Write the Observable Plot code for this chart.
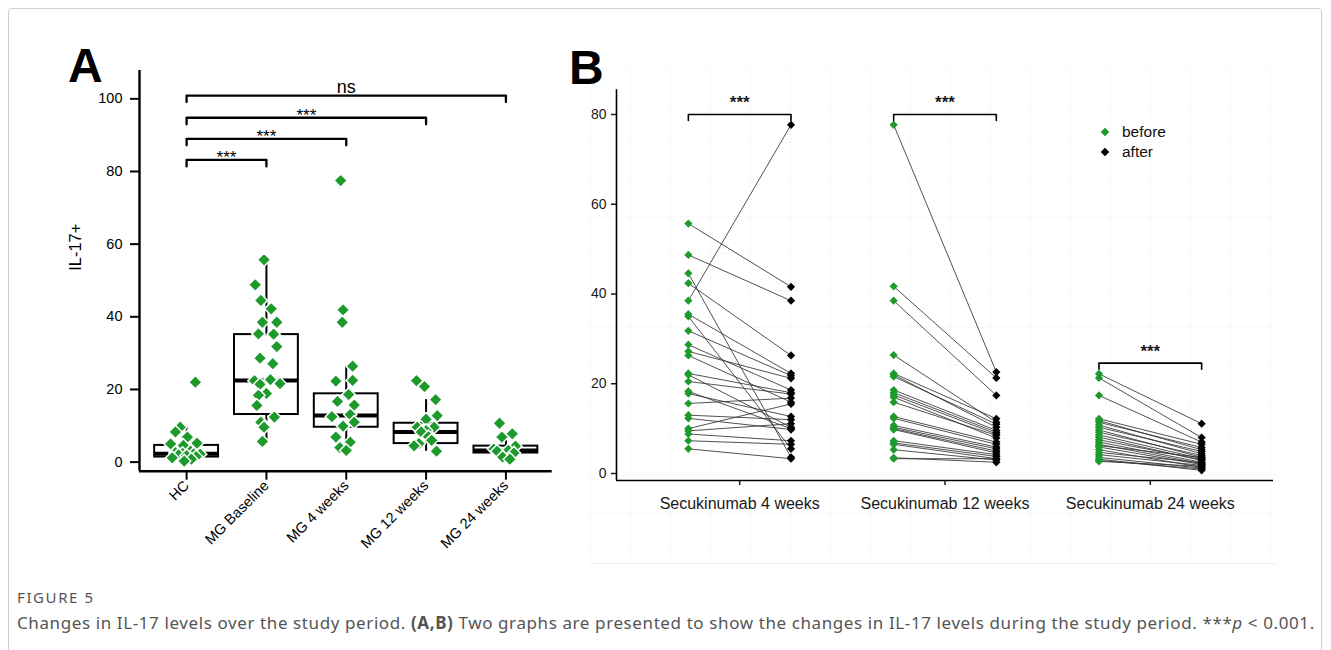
<!DOCTYPE html>
<html>
<head>
<meta charset="utf-8">
<script src="https://cdn.jsdelivr.net/npm/d3@7"></script>
<script src="https://cdn.jsdelivr.net/npm/@observablehq/plot@0.6"></script>
<style>
  html, body { margin: 0; padding: 0; background: #fff; }
  body { width: 1331px; height: 650px; overflow: hidden; position: relative; font-family: "Liberation Sans", Arial, sans-serif; }
  #frame { position: absolute; left: 8px; top: 8px; width: 1314px; height: 720px; border: 1px solid #cfcfcf; border-radius: 4px; box-sizing: border-box; }
  #gridB { position: absolute; left: 590px; top: 68px; width: 686px; height: 495px;
    background-image: linear-gradient(to right, rgba(0,0,0,0.022) 1px, transparent 1px),
                      linear-gradient(to bottom, rgba(0,0,0,0.022) 1px, transparent 1px);
    background-size: 40px 37px; border-bottom: 1px solid #f0f0f0; }
  #panelA { position: absolute; left: 0; top: 0; }
  #panelB { position: absolute; left: 560px; top: 0; }
  .tag { position: absolute; font-weight: bold; font-size: 48px; line-height: 48px; color: #000; }
  #legend { position: absolute; left: 1099px; top: 122px; font-size: 15.5px; color: #111; }
  #legend div { position: relative; height: 20px; line-height: 20px; padding-left: 23px; }
  #legend span.k { position: absolute; left: 3px; top: 7px; width: 6px; height: 6px; transform: rotate(45deg); }
  #fig { position: absolute; left: 17px; top: 587px; font-family: "Noto Sans", sans-serif; font-size: 15px; color: #555; letter-spacing: 1.6px; }
  #cap { position: absolute; left: 17px; top: 611px; font-family: "Noto Sans", sans-serif; font-size: 17px; color: #555; letter-spacing: 0.6px; white-space: nowrap; }
</style>
</head>
<body>
<div id="frame"></div>
<div id="gridB"></div>
<div id="panelA"></div>
<div id="panelB"></div>
<div class="tag" style="left:68px; top:42px;">A</div>
<div class="tag" style="left:569px; top:44px;">B</div>
<div id="legend">
  <div><span class="k" style="background:#1e9a2d"></span>before</div>
  <div><span class="k" style="background:#000"></span>after</div>
</div>
<div id="fig">FIGURE 5</div>
<div id="cap">Changes in IL-17 levels over the study period. <b>(A,B)</b> Two graphs are presented to show the changes in IL-17 levels during the study period. ***<i>p</i> &lt; 0.001.</div>
<script>
// ---------------- Panel A data ----------------
const catsA = ["HC", "MG Baseline", "MG 4 weeks", "MG 12 weeks", "MG 24 weeks"];
const yTicksA = [0, 20, 40, 60, 80, 100];

const hcVals   = [22.0, 9.6, 8.3, 6.9, 5.2, 5.0, 4.6, 3.0, 2.6, 2.4, 2.3, 2.2, 2.0, 1.8, 1.5, 1.2, 0.8, 0.3];
const hcJit    = [0.11, -0.08, -0.14, 0.01, 0.13, -0.2, -0.04, 0.05, -0.14, -0.05, 0.09, 0.17, -0.1, 0.0, 0.12, -0.18, 0.06, -0.03];
const baseVals = [55.7, 48.8, 44.5, 42.2, 38.5, 38.5, 35.3, 35.2, 31.8, 28.6, 27.1, 22.7, 22.4, 21.6, 21.4, 18.9, 18.4, 15.6, 12.4, 11.0, 9.6, 5.7];
const baseJit  = [-0.03, -0.14, -0.07, 0.06, -0.05, 0.13, -0.1, 0.09, 0.13, -0.08, 0.08, 0.05, -0.15, 0.17, -0.08, 0.0, -0.1, -0.12, 0.1, -0.07, -0.03, -0.05];
const w4Vals   = [77.5, 41.9, 38.5, 26.4, 22.5, 22.3, 18.6, 16.7, 15.7, 13.1, 12.5, 11.0, 9.9, 6.9, 5.5, 4.0, 3.2];
const w4Jit    = [-0.07, -0.04, -0.05, 0.08, 0.08, -0.13, 0.03, -0.11, 0.1, 0.05, -0.18, 0.1, -0.04, -0.13, 0.05, -0.08, 0.0];
const w12Vals  = [22.4, 20.8, 17.2, 12.8, 11.8, 9.6, 9.6, 8.7, 8.3, 7.0, 6.0, 5.1, 4.5, 3.0];
const w12Jit   = [-0.12, -0.02, 0.12, 0.14, 0.0, -0.11, 0.1, 0.0, -0.06, 0.03, 0.07, -0.09, -0.15, 0.13];
const w24Vals  = [10.7, 7.8, 6.9, 4.4, 3.6, 3.2, 3.0, 2.5, 1.4, 0.8];
const w24Jit   = [-0.08, 0.08, -0.05, 0.12, -0.15, 0.03, -0.11, 0.1, -0.04, 0.05];

// box statistics
const boxQ1  = [1.4, 13.1, 9.6, 5.1, 2.5];
const boxMed = [2.3, 22.5, 12.8, 8.3, 3.2];
const boxQ3  = [4.6, 35.1, 18.8, 10.7, 4.4];
const boxLo  = [0.3, 5.7, 3.2, 3.0, 0.8];
const boxHi  = [9.6, 55.7, 26.4, 17.2, 6.9];

// significance brackets (all from HC)
const brA_to    = [1, 2, 3, 4];
const brA_level = [83.2, 89.0, 94.8, 100.9];
const brA_label = ["***", "***", "***", "ns"];

// ---------------- Panel B data ----------------
const catsB = ["Secukinumab 4 weeks", "Secukinumab 12 weeks", "Secukinumab 24 weeks"];
const yTicksB = [0, 20, 40, 60, 80];
const b4Before  = [55.7, 48.7, 44.6, 42.4, 38.5, 35.5, 35.0, 31.8, 28.7, 27.2, 26.3, 22.3, 22.0, 20.5, 18.3, 17.8, 15.6, 13.0, 12.3, 10.0, 9.5, 8.8, 7.3, 5.5];
const b4After   = [41.6, 38.5, 3.6, 26.3, 77.7, 22.3, 5.5, 21.8, 18.6, 21.2, 15.9, 18.0, 10.3, 17.7, 10.0, 12.7, 16.8, 12.0, 9.8, 15.5, 11.1, 7.3, 6.5, 3.3];
const b12Before = [77.7, 41.7, 38.5, 26.4, 22.3, 22.0, 21.6, 18.6, 18.0, 17.5, 17.0, 15.9, 12.7, 12.3, 10.7, 10.3, 10.0, 9.8, 7.3, 6.8, 6.5, 5.3, 3.5, 3.3];
const b12After  = [22.6, 21.3, 17.4, 11.4, 12.2, 10.3, 11.0, 9.6, 9.2, 8.8, 7.9, 8.5, 7.0, 6.5, 5.9, 5.5, 5.0, 4.6, 4.2, 3.8, 3.3, 3.0, 2.5, 3.3];
const b24Before = [22.2, 21.3, 17.4, 12.2, 11.8, 11.4, 10.8, 10.3, 9.7, 9.2, 8.6, 8.1, 7.5, 7.0, 6.5, 6.2, 5.9, 5.3, 4.7, 4.2, 3.6, 3.2, 2.9, 2.7];
const b24After  = [11.1, 8.0, 7.0, 6.5, 5.3, 5.8, 4.4, 4.9, 3.6, 4.0, 3.3, 2.9, 3.1, 2.5, 2.2, 3.6, 2.0, 1.4, 2.4, 1.8, 1.2, 0.7, 1.0, 1.6];
const brB_level = [80, 80, 24.6];
const brB_label = ["***", "***", "***"];

// ---------------- build tables ----------------
const GREEN = "#1e9a2d";
const groupsA = [[hcVals, hcJit], [baseVals, baseJit], [w4Vals, w4Jit], [w12Vals, w12Jit], [w24Vals, w24Jit]];
const pointsA = groupsA.flatMap(([vals, jit], i) => vals.map((v, k) => ({x: i + jit[k], y: v})));
const boxes = catsA.map((c, i) => ({i, q1: boxQ1[i], med: boxMed[i], q3: boxQ3[i], lo: boxLo[i], hi: boxHi[i]}));
const halfBox = 0.4, dropA = 1.8;
const bracketsA = brA_to.flatMap((to, k) => {
  const l = brA_level[k];
  return [{x: 0, y: l - dropA, k}, {x: 0, y: l, k}, {x: to, y: l, k}, {x: to, y: l - dropA, k}];
});
const labelsA = brA_to.map((to, k) => ({x: to / 2, y: brA_level[k], t: brA_label[k]}));

const xDomA = [-0.59, 4.58], yDomA = [-2.5, 107.8];
const fontA = "Liberation Sans, Arial, Helvetica, sans-serif";

const plotA = Plot.plot({
  width: 580, height: 580,
  marginLeft: 139, marginRight: 28.3, marginTop: 70, marginBottom: 109.3,
  style: {fontFamily: fontA, fontSize: "14.5px", color: "#000", background: "transparent", overflow: "visible"},
  x: {domain: xDomA},
  y: {domain: yDomA},
  marks: [
    Plot.ruleX([xDomA[0]], {stroke: "#000", strokeWidth: 2.4}),
    Plot.ruleY([yDomA[0]], {stroke: "#000", strokeWidth: 2.4}),
    Plot.axisY({ticks: yTicksA, tickSize: 9, tickPadding: 8, strokeWidth: 2, label: null, fontSize: 14.5}),
    Plot.axisX({ticks: [0, 1, 2, 3, 4], tickFormat: i => catsA[i], tickRotate: -45, tickSize: 9, tickPadding: 3, strokeWidth: 2, label: null, fontSize: 14.5}),
    // boxes
    Plot.ruleX(boxes, {x: "i", y1: "q3", y2: "hi", strokeWidth: 2}),
    Plot.ruleX(boxes, {x: "i", y1: "lo", y2: "q1", strokeWidth: 2}),
    Plot.rect(boxes, {x1: d => d.i - halfBox, x2: d => d.i + halfBox, y1: "q1", y2: "q3", fill: "white", stroke: "#000", strokeWidth: 2}),
    Plot.ruleY(boxes, {y: "med", x1: d => d.i - halfBox, x2: d => d.i + halfBox, stroke: "#000", strokeWidth: 4}),
    // points
    Plot.dot(pointsA, {x: "x", y: "y", symbol: "diamond2", r: 6, fill: GREEN, stroke: "white", strokeWidth: 1.5}),
    // brackets
    Plot.line(bracketsA, {x: "x", y: "y", z: "k", stroke: "#000", strokeWidth: 2.3}),
    Plot.text(labelsA.filter(d => d.t !== "ns"), {x: "x", y: "y", text: "t", fontSize: 17, dy: -2}),
    Plot.text(labelsA.filter(d => d.t === "ns"), {x: "x", y: "y", text: "t", fontSize: 18, dy: -8}),
    // y-axis title
    Plot.text(["IL-17+"], {frameAnchor: "left", rotate: -90, dx: -64, fontSize: 16.5, text: d => d})
  ]
});
document.getElementById("panelA").appendChild(plotA);

// ---------------- Panel B ----------------
const offB = 0.25, dropB = 1.35;
const groupsB = [[b4Before, b4After], [b12Before, b12After], [b24Before, b24After]];
const pairs = groupsB.flatMap(([bef, aft], g) => bef.map((v, k) => ({g, before: v, after: aft[k]})));
const bracketsB = brB_level.flatMap((l, g) => [
  {x: g - offB, y: l - dropB, g}, {x: g - offB, y: l, g}, {x: g + offB, y: l, g}, {x: g + offB, y: l - dropB, g}
]);
const labelsB = brB_level.map((l, g) => ({x: g, y: l, t: brB_label[g]}));
const xDomB = [-0.6, 2.6], yDomB = [-1.56, 85.5];

const plotB = Plot.plot({
  width: 740, height: 560,
  marginLeft: 56, marginRight: 27, marginTop: 89.3, marginBottom: 80,
  style: {fontFamily: fontA, fontSize: "14px", color: "#1a1a1a", background: "transparent", overflow: "visible"},
  x: {domain: xDomB},
  y: {domain: yDomB},
  marks: [
    Plot.ruleX([xDomB[0]], {stroke: "#000", strokeWidth: 1.6}),
    Plot.ruleY([yDomB[0]], {stroke: "#000", strokeWidth: 1.6}),
    Plot.axisY({ticks: yTicksB, tickSize: 5, tickPadding: 5, strokeWidth: 1.5, label: null, fontSize: 14}),
    Plot.axisX({ticks: [0, 1, 2], tickFormat: i => catsB[i], tickSize: 5, tickPadding: 12, strokeWidth: 1.5, label: null, fontSize: 16}),
    Plot.link(pairs, {x1: d => d.g - offB, y1: "before", x2: d => d.g + offB, y2: "after", stroke: "#333", strokeWidth: 0.85}),
    Plot.dot(pairs, {x: d => d.g - offB, y: "before", symbol: "diamond2", r: 3.7, fill: GREEN}),
    Plot.dot(pairs, {x: d => d.g + offB, y: "after", symbol: "diamond2", r: 3.7, fill: "#000"}),
    Plot.line(bracketsB, {x: "x", y: "y", z: "g", stroke: "#000", strokeWidth: 1.6}),
    Plot.text(labelsB, {x: "x", y: "y", text: "t", fontSize: 17, fontWeight: "bold", dy: -12})
  ]
});
document.getElementById("panelB").appendChild(plotB);
</script>
</body>
</html>
